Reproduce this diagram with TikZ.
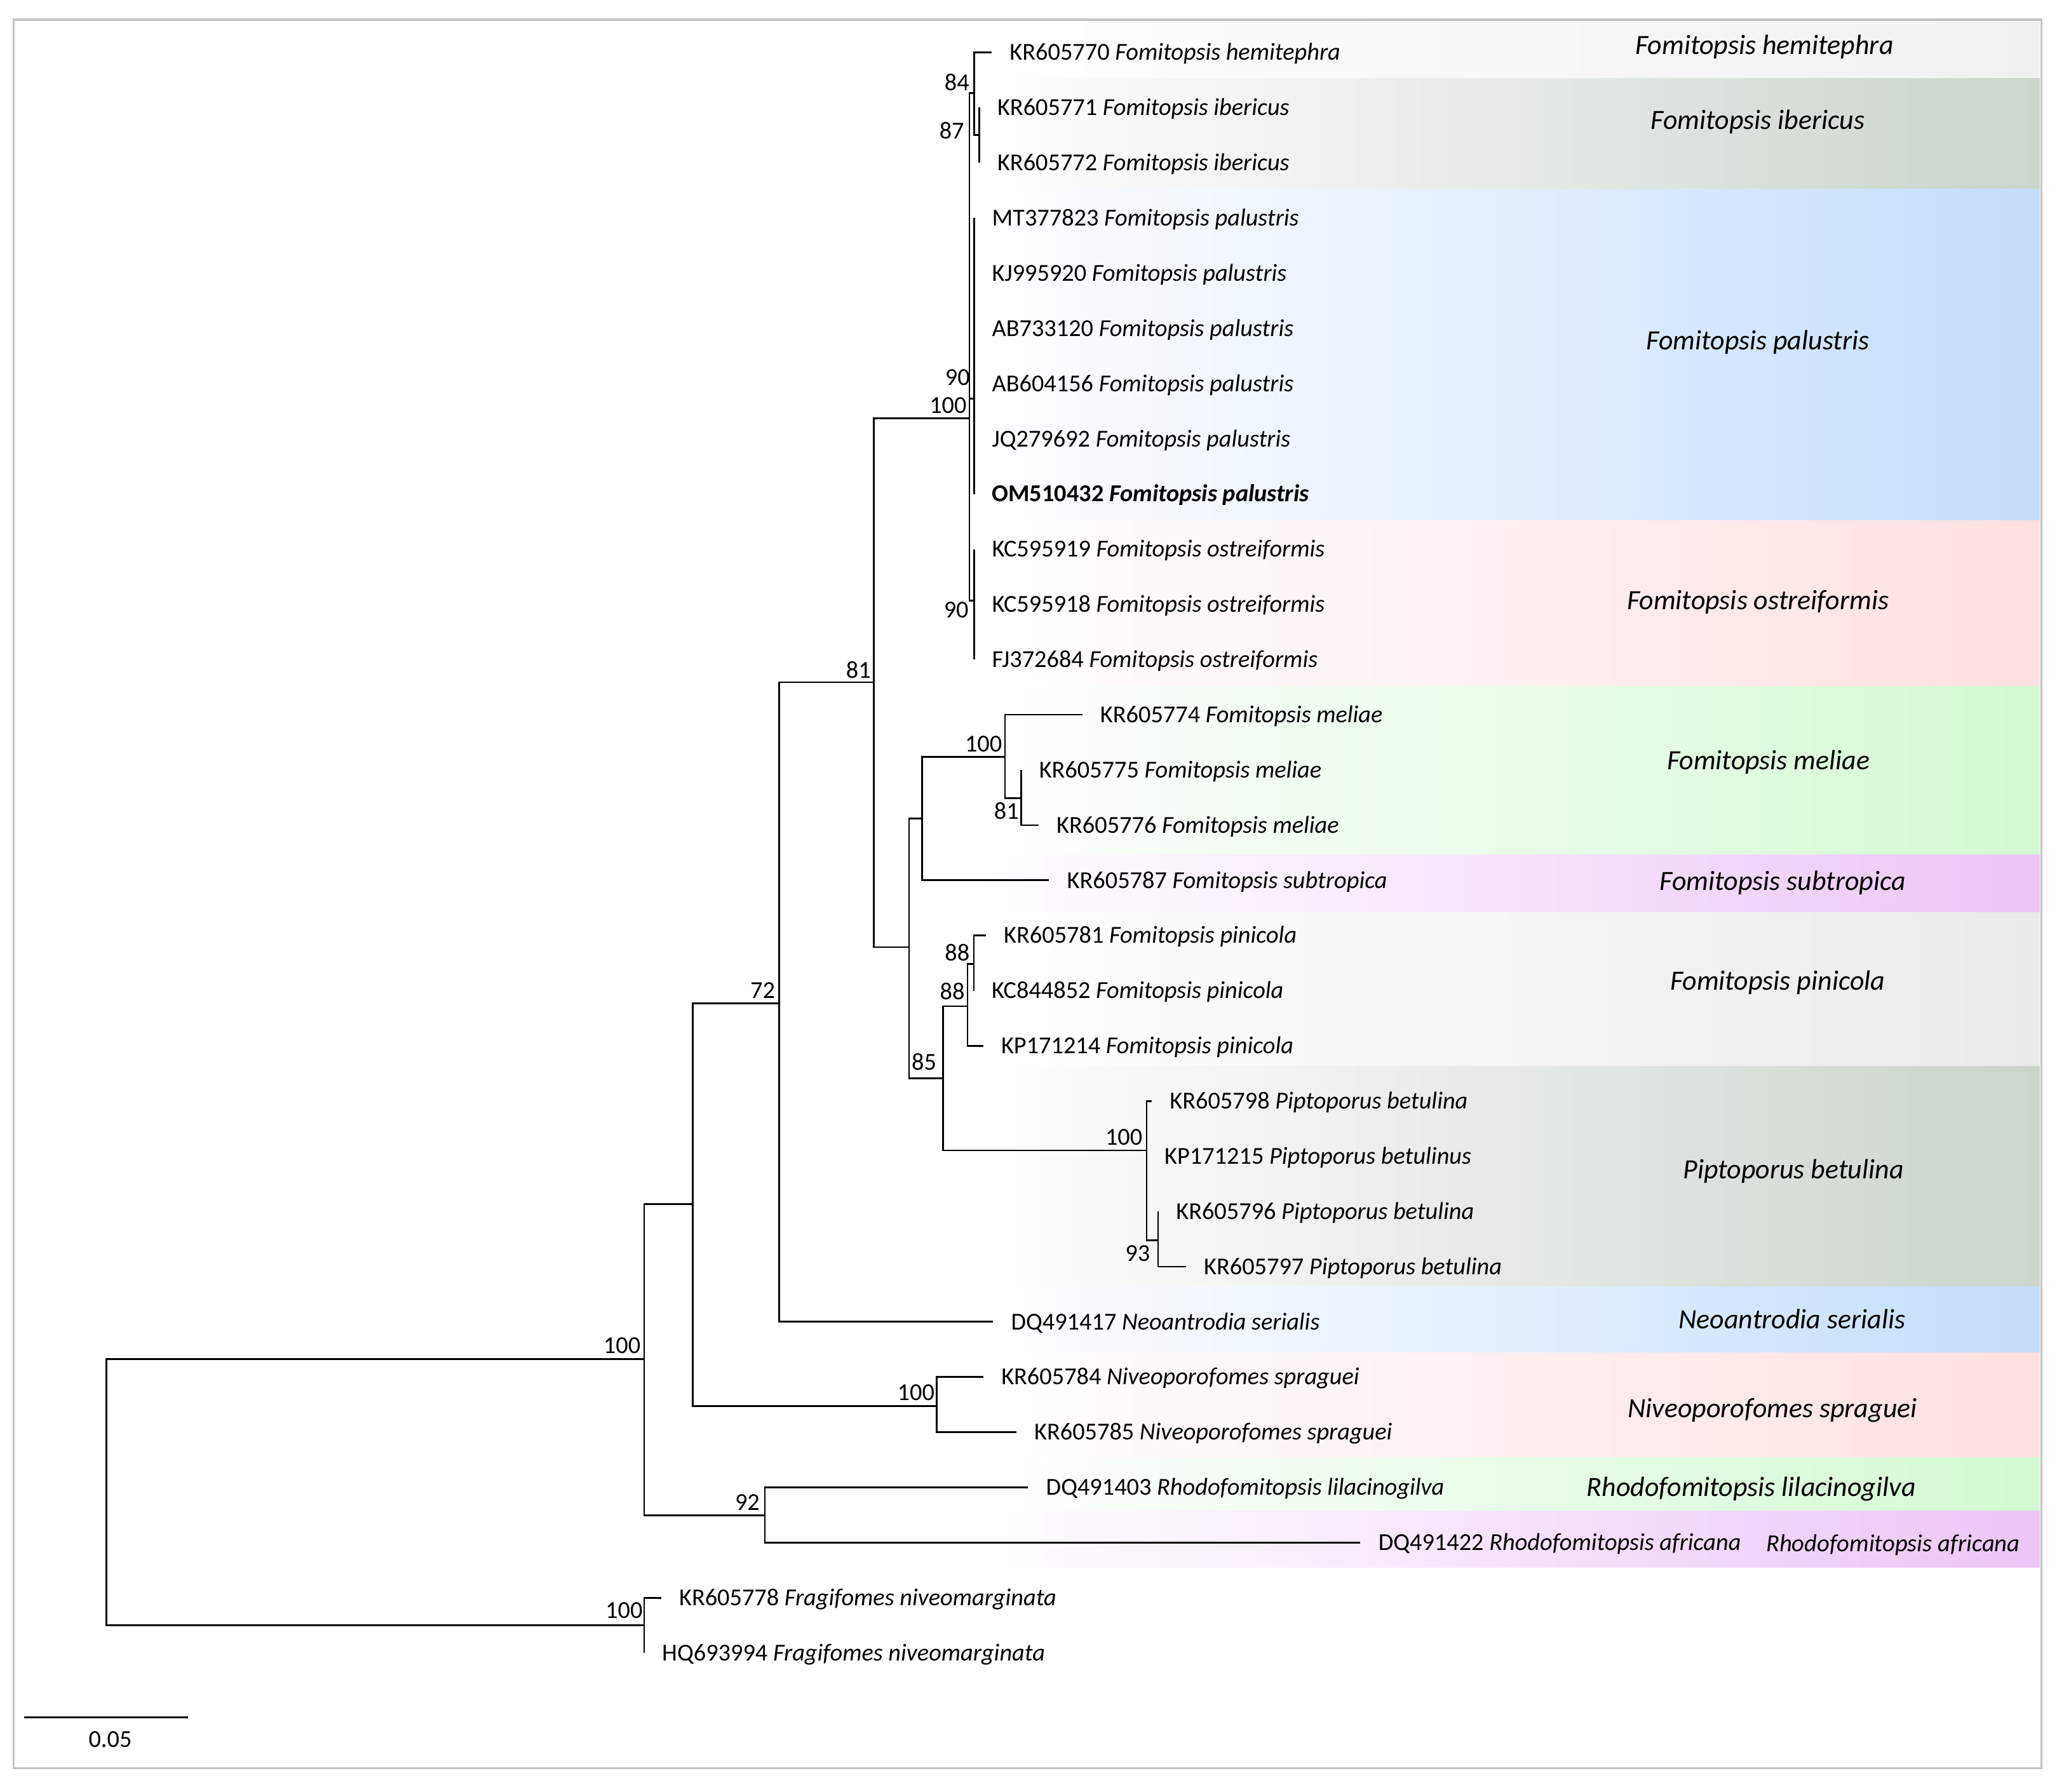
\documentclass[tikz,border=0pt]{standalone}
\usepackage{fontspec}
\setmainfont{Carlito}
\usepackage{tikz}
\usetikzlibrary{positioning, calc}
\definecolor{bgray}{HTML}{F0F0F0}
\definecolor{bsage}{HTML}{CBD5CB}
\definecolor{bblue}{HTML}{C5DDFA}
\definecolor{bpink}{HTML}{FDE0E0}
\definecolor{bgreen}{HTML}{D3F8D3}
\definecolor{bviolet}{HTML}{EBC7F5}
\definecolor{blight}{HTML}{EAEAEA}
\definecolor{framegray}{HTML}{C4C4C4}

\begin{document}
\begin{tikzpicture}[x=1pt, y=-1pt,
    branch/.style={line width=1.3pt, black},
    leaf/.style={anchor=west, inner sep=0pt, text height=11.9pt, text depth=0pt,
        font=\fontsize{18.55}{21}\selectfont},
    boot/.style={anchor=south east, inner sep=0pt, text height=11.9pt, text depth=0pt,
        font=\fontsize{18.55}{21}\selectfont},
    clade/.style={inner sep=0pt, text height=13.2pt, text depth=0pt}]
\useasboundingbox (0,0) rectangle (1568,1366);

\foreach \t/\b/\c/\lx/\ly/\z/\m [count=\i] in {
    17/60/bgray/1345/35/21.25/Fomitopsis hemitephra,
    60/144/bsage/1340/92/21.25/Fomitopsis ibericus,
    144/397/bblue/1340/260/21.25/Fomitopsis palustris,
    397/523/bpink/1340/458/21.25/Fomitopsis ostreiformis,
    523/651.5/bgreen/1348/580/21.25/Fomitopsis meliae,
    651.5/695.5/bviolet/1359/672/21.25/Fomitopsis subtropica,
    695.5/813/blight/1355/748/21.25/Fomitopsis pinicola,
    813/981/bsage/1367/892/21.25/Piptoporus betulina,
    981/1031/bblue/1366/1006/21.25/Neoantrodia serialis,
    1031/1111/bpink/1351/1074/21.25/Niveoporofomes spraguei,
    1111/1152/bgreen/1335/1134/21.25/Rhodofomitopsis lilacinogilva,
    1152/1195/bviolet/1443/1176/18.7/Rhodofomitopsis africana}
{
    \shade[left color=white, right color=\c] (745,\t) rectangle (1555,\b);
    \node[clade, font=\fontsize{\z}{24}\selectfont\itshape] (clade\i) at (\lx,\ly) {\m};
}

\draw[framegray, line width=1.6pt] (10.5,15) rectangle (1556,1348);

\foreach \n/\x/\y in {
    root/81/1138, fra/491/1239, ing/491/1036, n528/528/918,
    rho/583/1155, n594/594/765, niv/714/1072, n666/666/520,
    n739/739/319, n84/742.5/71, n87/746.6/103, pal/742.5/304,
    ost/742.5/458, n693/693/722, n703/703/624, mel/766/577,
    mel81/778.4/608.5, n719/719/822, pinb/737.5/767, pina/742.3/735,
    pip/874/877, pip93/882.8/945.5}
    \coordinate (\n) at (\x,\y);

\foreach \p/\c in {
    root/fra, root/ing, ing/n528, ing/rho, n528/n594, n528/niv,
    n594/n666, n666/n739, n739/n84, n84/n87, n739/pal, n739/ost,
    n666/n693, n693/n703, n703/mel, mel/mel81, n693/n719,
    n719/pinb, pinb/pina, n719/pip, pip/pip93}
    \draw[branch] (\p) |- (\c);

\foreach \r/\x/\p/\a/\s in {
    0/756/n84/KR605770/Fomitopsis hemitephra,
    1/746.6/n87/KR605771/Fomitopsis ibericus,
    2/746.6/n87/KR605772/Fomitopsis ibericus,
    3/742.5/pal/MT377823/Fomitopsis palustris,
    4/742.5/pal/KJ995920/Fomitopsis palustris,
    5/742.5/pal/AB733120/Fomitopsis palustris,
    6/742.5/pal/AB604156/Fomitopsis palustris,
    7/742.5/pal/JQ279692/Fomitopsis palustris,
    8/742.5/pal/OM510432/Fomitopsis palustris,
    9/742.5/ost/KC595919/Fomitopsis ostreiformis,
    10/742.5/ost/KC595918/Fomitopsis ostreiformis,
    11/742.5/ost/FJ372684/Fomitopsis ostreiformis,
    12/825/mel/KR605774/Fomitopsis meliae,
    13/778.4/mel81/KR605775/Fomitopsis meliae,
    14/791.7/mel81/KR605776/Fomitopsis meliae,
    15/799.7/n703/KR605787/Fomitopsis subtropica,
    16/751.5/pina/KR605781/Fomitopsis pinicola,
    17/742.3/pina/KC844852/Fomitopsis pinicola,
    18/749.5/pinb/KP171214/Fomitopsis pinicola,
    19/878/pip/KR605798/Piptoporus betulina,
    20/874/pip/KP171215/Piptoporus betulinus,
    21/882.8/pip93/KR605796/Piptoporus betulina,
    22/904/pip93/KR605797/Piptoporus betulina,
    23/757/n594/DQ491417/Neoantrodia serialis,
    24/749.6/niv/KR605784/Niveoporofomes spraguei,
    25/774.7/niv/KR605785/Niveoporofomes spraguei,
    26/783.7/rho/DQ491403/Rhodofomitopsis lilacinogilva,
    27/1037/rho/DQ491422/Rhodofomitopsis africana,
    28/504/fra/KR605778/Fragifomes niveomarginata,
    29/491/fra/HQ693994/Fragifomes niveomarginata}
{
    \coordinate (t\r) at (\x, 40+42.07*\r);
    \draw[branch] (\p) |- (t\r);
    \node[leaf] (\a) at ([xshift=13.5pt]t\r)
        {\ifnum\r=8\bfseries\fi\a\ \textit{\s}};
}

\foreach \n/\v/\a/\dx/\dy in {
    n594/72/south east/-3/4, n666/81/south east/-2/3,
    n739/100/south east/-2/4, pal/90/south east/-3/10,
    n84/84/south east/-3.5/2, ost/90/north east/-4/-1,
    mel/100/south east/-2/3.5, mel81/81/north east/-1.6/-4,
    n719/85/south east/-5/6, pinb/88/south east/-2/5,
    pina/88/south east/-3/2.5, pip/100/south east/-3/4,
    pip93/93/north east/-6/-4, ing/100/south east/-2.6/4,
    niv/100/south east/-1.5/4.5, rho/92/south east/-3.7/3.3,
    fra/100/south east/-1/5}
    \node[boot, anchor=\a] (b\n) at ([xshift=\dx pt, yshift=\dy pt]\n) {\v};
\node[boot, anchor=east] (bn87) at ([xshift=-11.5pt, yshift=3pt]n87) {87};

\coordinate (sbl) at (18.4,1309);
\coordinate (sbr) at (143.4,1309);
\draw[branch] (sbl) -- (sbr);
\node[boot, anchor=center] (sblabel) at (84,1326) {0.05};

\end{tikzpicture}
\end{document}
